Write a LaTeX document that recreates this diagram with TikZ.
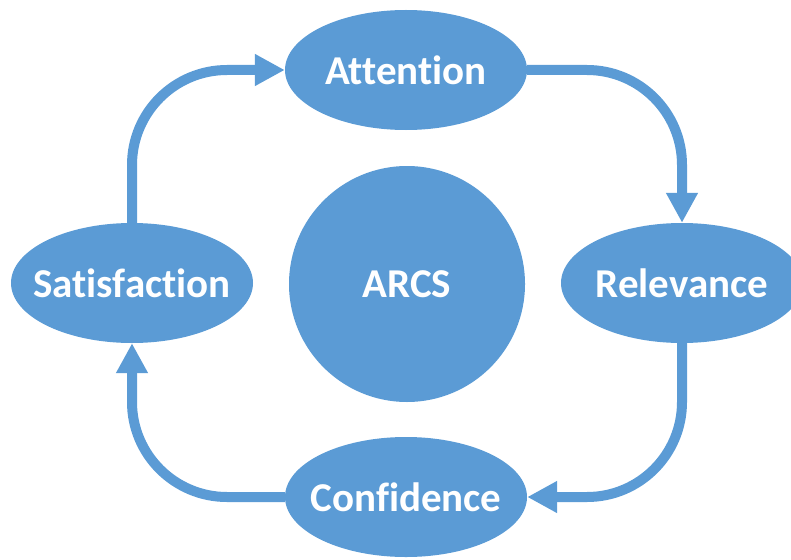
\documentclass[tikz,border=0pt]{standalone}
\usepackage{fontspec}
\setmainfont{Carlito}[Ligatures=CommonOff]
\usepackage{tikz}
\usetikzlibrary{arrows.meta}
\usetikzlibrary{shapes.geometric}
\definecolor{arcsblue}{HTML}{5B9BD5}

\begin{document}
\begin{tikzpicture}[x=1pt, y=-1pt,
    word/.style={text=white, font=\bfseries\fontsize{41}{48}\selectfont, inner sep=0pt},
    phase/.style={ellipse, fill=arcsblue, minimum width=242pt, minimum height=120pt,
      inner sep=0pt, label={[word]center:#1}},
    flow/.style={draw=arcsblue, line width=10pt, rounded corners=95pt,
      -{Triangle[length=30pt, width=30pt]}}]
    \useasboundingbox (0, 0) rectangle (791, 559);

    \node [circle, fill=arcsblue, minimum size=236pt, inner sep=0pt,
      label={[word]center:ARCS}] (arcs) at (407, 284) {};

    \node [phase=Attention] (attention) at (406, 70) {};
    \node [phase=Relevance] (relevance) at (682, 283) {};
    \node [phase=Confidence] (confidence) at (406, 497) {};
    \node [phase=Satisfaction] (satisfaction) at (132, 283) {};

    \draw [flow] (attention.east) -| (relevance.north);
    \draw [flow] (relevance.south) |- (confidence.east);
    \draw [flow] (confidence.west) -| (satisfaction.south);
    \draw [flow] (satisfaction.north) |- (attention.west);
  \end{tikzpicture}
\end{document}
